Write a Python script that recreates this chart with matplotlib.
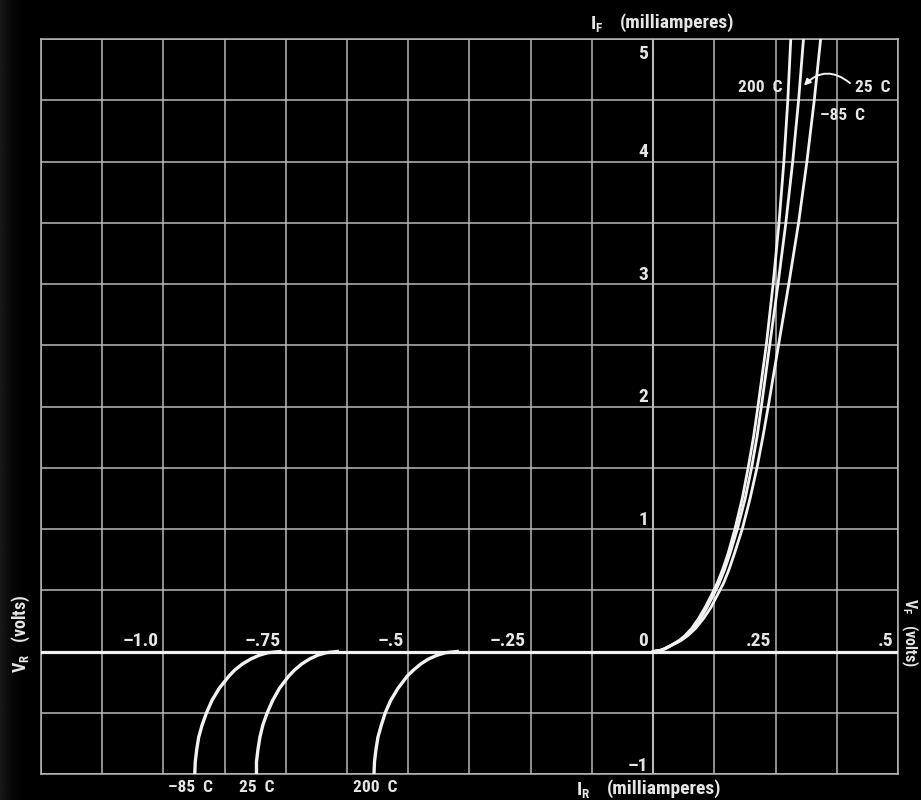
import numpy as np
import matplotlib.pyplot as plt
from matplotlib import font_manager

# forward characteristic: current (mA) against voltage (V) for each temperature
fwd_current = [0, 0.01, 0.02, 0.05, 0.09, 0.13, 0.19, 0.27, 0.36, 0.46, 0.56, 0.67, 0.8, 1.0,
               1.25, 1.5, 1.75, 2.0, 2.5, 3.0, 3.5, 4.0, 4.5, 5.0]
fwd_v_200 = [0, 0.014, 0.021, 0.036, 0.053, 0.065, 0.079, 0.093, 0.106, 0.119, 0.131, 0.142, 0.153, 0.167,
             0.182, 0.194, 0.205, 0.214, 0.231, 0.245, 0.257, 0.267, 0.275, 0.281]
fwd_v_25 = [0, 0.015, 0.022, 0.037, 0.055, 0.068, 0.082, 0.097, 0.110, 0.123, 0.135, 0.146, 0.157, 0.172,
            0.188, 0.201, 0.212, 0.221, 0.238, 0.255, 0.271, 0.285, 0.297, 0.307]
fwd_v_m85 = [0, 0.016, 0.024, 0.038, 0.057, 0.071, 0.087, 0.103, 0.118, 0.131, 0.144, 0.155, 0.166, 0.182,
             0.198, 0.212, 0.224, 0.235, 0.256, 0.277, 0.297, 0.314, 0.329, 0.342]

# reverse characteristic (breakdown): current (mA) against voltage (V)
rev_current = [-1.0, -0.9, -0.8, -0.7, -0.6, -0.5, -0.4, -0.3, -0.2, -0.15, -0.1, -0.06, -0.03, -0.01, 0]
rev_v_m85 = [-0.936, -0.935, -0.932, -0.928, -0.921, -0.912, -0.901, -0.886, -0.866, -0.854, -0.838,
             -0.821, -0.804, -0.787, -0.762]
rev_v_25 = [-0.810, -0.810, -0.807, -0.803, -0.797, -0.788, -0.777, -0.763, -0.744, -0.732, -0.717,
            -0.701, -0.685, -0.668, -0.645]
rev_v_200 = [-0.570, -0.569, -0.566, -0.562, -0.555, -0.547, -0.536, -0.521, -0.502, -0.489, -0.474,
             -0.458, -0.441, -0.424, -0.400]

x_tick_vals = [-1.0, -0.75, -0.5, -0.25, 0, 0.25, 0.5]
x_tick_text = ['\u20131.0', '\u2013.75', '\u2013.5', '\u2013.25', '0', '.25', '.5']
y_tick_vals = [1, 2, 3, 4]
y_tick_text = ['1', '2', '3', '4']

# a narrow face is closest to the condensed lettering of the original
fonts = font_manager.fontManager.ttflist
names = {f.name for f in fonts}
FONT, STRETCH = 'DejaVu Sans', 'normal'
for cand in ['Liberation Sans Narrow', 'Roboto Condensed', 'Open Sans Condensed', 'Noto Sans Condensed',
             'DejaVu Sans Condensed']:
    if cand in names:
        FONT = cand
        break
else:
    if any(f.name == 'DejaVu Sans' and f.stretch == 'condensed' for f in fonts):
        FONT, STRETCH = 'DejaVu Sans', 'condensed'
    elif 'Liberation Sans' in names:
        FONT = 'Liberation Sans'
plt.rcParams['font.family'] = [FONT, 'DejaVu Sans']
plt.rcParams['font.stretch'] = STRETCH
plt.rcParams['mathtext.default'] = 'regular'

W, H = 921, 800
BG = '#050505'
GRID = '#b8b8b8'
CURVE = '#f2f2f2'
TXT = '#e6e6e6'

fig = plt.figure(figsize=(W / 100, H / 100), dpi=100)
fig.patch.set_facecolor(BG)

# faint grey haze on the left edge like the photograph
haze = fig.add_axes([0, 0, 1, 1], zorder=-5)
grad = np.clip(1 - np.linspace(0, 1, 900) / 0.035, 0, 1) ** 2.5
haze.imshow(np.tile(grad, (10, 1)), cmap='gray', vmin=0, vmax=10, aspect='auto', extent=[0, 1, 0, 1])
haze.axis('off')

ax = fig.add_axes([41 / W, 26 / H, 857 / W, 735 / H])
ax.set_facecolor('none')
ax.set_xlim(-1.25, 0.5)
ax.set_ylim(-1, 5)
ax.set_xticks(np.arange(-1.25, 0.5001, 0.125))
ax.set_yticks(np.arange(-1, 5.001, 0.5))
ax.tick_params(length=0, labelbottom=False, labelleft=False)
ax.grid(True, color=GRID, lw=1.1)
for s in ax.spines.values():
    s.set_color(GRID)
    s.set_linewidth(1.1)

ax.axhline(0, color=CURVE, lw=2.3, zorder=3)
ax.axvline(0, color=GRID, lw=1.5, zorder=2)

for v in (fwd_v_200, fwd_v_25, fwd_v_m85):
    ax.plot(v, fwd_current, color=CURVE, lw=2.0, solid_joinstyle='round', zorder=4)
for v in (rev_v_m85, rev_v_25, rev_v_200):
    ax.plot(v, rev_current, color=CURVE, lw=2.4, solid_joinstyle='round', zorder=4)

fs = 12.5
fs_tick = 14
for xv, t in zip(x_tick_vals, x_tick_text):
    ax.annotate(t, (xv, 0), xytext=(-3.5, 4), textcoords='offset points',
                ha='right', va='baseline', color=TXT, fontsize=fs_tick, fontweight='bold')
for yv, t in zip(y_tick_vals, y_tick_text):
    ax.annotate(t, (0, yv), xytext=(-3.5, 3), textcoords='offset points',
                ha='right', va='baseline', color=TXT, fontsize=fs_tick, fontweight='bold')
ax.annotate('5', (0, 5), xytext=(-3.5, -4), textcoords='offset points',
            ha='right', va='top', color=TXT, fontsize=fs_tick, fontweight='bold')
ax.annotate('\u20131', (0, -1), xytext=(-3.5, 2), textcoords='offset points',
            ha='right', va='baseline', color=TXT, fontsize=fs_tick, fontweight='bold')


def ptext(x, y, s, **kw):
    kw.setdefault('color', TXT)
    kw.setdefault('fontsize', fs)
    kw.setdefault('fontweight', 'bold')
    fig.text(x / W, 1 - y / H, s, **kw)


# axis titles
ptext(590, 24, r'I$_F$', ha='left', va='center', fontsize=13.5)
ptext(620, 23, '(milliamperes)', ha='left', va='center', fontsize=14)
ptext(576, 790, r'I$_R$', ha='left', va='center', fontsize=13.5)
ptext(607, 789, '(milliamperes)', ha='left', va='center', fontsize=14)
ptext(21, 634, r'V$_R$   (volts)', ha='center', va='center', rotation=90, fontsize=13)
ptext(910, 633, r'V$_F$   (volts)', ha='center', va='center', rotation=-90, fontsize=11.5)

# temperature labels
ptext(190, 788, '\u201385  C', ha='center', va='center')
ptext(257, 788, '25  C', ha='center', va='center')
ptext(375, 788, '200  C', ha='center', va='center')
ptext(782, 88, '200  C', ha='right', va='center')
ptext(855, 88, '25  C', ha='left', va='center')
ptext(820, 115, '\u201385  C', ha='left', va='center')

ax.annotate('', xy=(0.308, 4.62), xytext=(0.402, 4.64),
            arrowprops=dict(arrowstyle='-|>', color=CURVE, lw=1.4, mutation_scale=9,
                            connectionstyle='arc3,rad=0.45', shrinkA=0, shrinkB=0))

fig.savefig('out.png', dpi=100, facecolor=fig.get_facecolor())
